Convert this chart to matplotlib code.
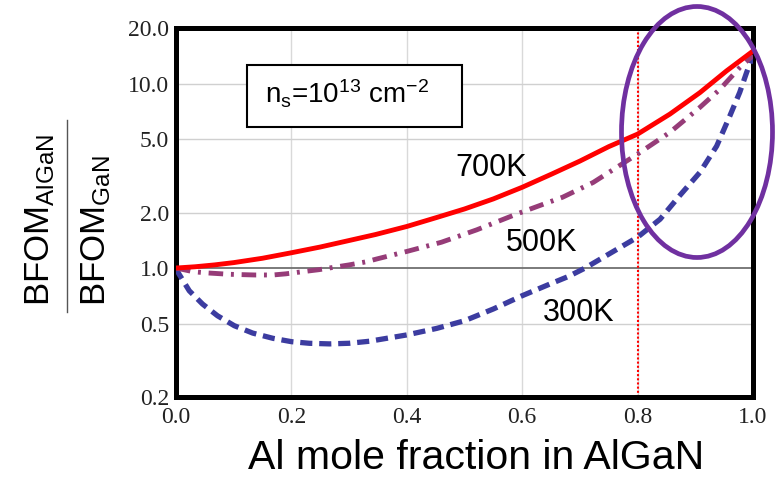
import matplotlib
matplotlib.use("Agg")
import matplotlib.pyplot as plt
from matplotlib.patches import Ellipse, Rectangle
from matplotlib.lines import Line2D

# Data
x_700 = [0.0, 0.033, 0.067, 0.1, 0.15, 0.2, 0.25, 0.3, 0.346, 0.4, 0.452, 0.5,
         0.55, 0.6, 0.651, 0.7, 0.75, 0.8, 0.856, 0.908, 0.954, 1.0]
y_700 = [1.0, 1.016, 1.04, 1.07, 1.13, 1.21, 1.30, 1.41, 1.52, 1.68, 1.88, 2.09,
         2.37, 2.74, 3.23, 3.8, 4.55, 5.32, 6.83, 8.93, 11.7, 15.0]

x_500 = [0.0, 0.03, 0.056, 0.092, 0.137, 0.168, 0.19, 0.219, 0.248, 0.274, 0.3,
         0.329, 0.348, 0.4, 0.46, 0.521, 0.59, 0.637, 0.67, 0.723, 0.8, 0.856,
         0.908, 0.943, 0.977, 1.0]
y_500 = [1.0, 0.955, 0.94, 0.925, 0.917, 0.917, 0.93, 0.955, 0.98, 1.01, 1.04,
         1.08, 1.12, 1.23, 1.38, 1.61, 1.96, 2.22, 2.42, 2.91, 4.15, 5.44,
         7.43, 9.33, 12.2, 14.2]

x_300 = [0.0, 0.005, 0.023, 0.046, 0.072, 0.101, 0.133, 0.168, 0.2, 0.231, 0.266,
         0.3, 0.335, 0.4, 0.452, 0.5, 0.55, 0.6, 0.648, 0.68, 0.709, 0.8, 0.839,
         0.873, 0.908, 0.937, 0.96, 0.977, 0.989, 1.0]
y_300 = [1.0, 0.93, 0.753, 0.638, 0.551, 0.487, 0.444, 0.416, 0.399, 0.391, 0.388,
         0.391, 0.401, 0.434, 0.471, 0.518, 0.600, 0.708, 0.819, 0.9, 1.0, 1.47,
         1.84, 2.47, 3.30, 4.58, 6.69, 8.96, 11.5, 14.2]

x_ticks = [0.0, 0.2, 0.4, 0.6, 0.8, 1.0]
x_tick_labels = ["0.0", "0.2", "0.4", "0.6", "0.8", "1.0"]
y_ticks = [0.2, 0.5, 1.0, 2.0, 5.0, 10.0, 20.0]
y_tick_labels = ["0.2", "0.5", "1.0", "2.0", "5.0", "10.0", "20.0"]

curve_labels = ["700K", "500K", "300K"]
label_x = [0.546, 0.633, 0.698]
label_y = [3.48, 1.366, 0.57]

plt.rcParams['mathtext.fontset'] = 'custom'
plt.rcParams['mathtext.rm'] = 'Liberation Sans'
plt.rcParams['mathtext.it'] = 'Liberation Sans'
plt.rcParams['font.family'] = 'Liberation Sans'

W, H = 778, 479
fig = plt.figure(figsize=(W/100, H/100), dpi=100)
ax = fig.add_axes([176/W, 1-397/H, 577/W, 369/H])
ax.set_yscale('log')
ax.set_xlim(0, 1.0)
ax.set_ylim(0.2, 20.0)

# grid
for xv in x_ticks[1:-1]:
    ax.axvline(xv, color='#d9d9d9', lw=1.0, zorder=1)
for yv in y_ticks[1:-1]:
    if yv == 1.0:
        ax.axhline(yv, color='#707070', lw=1.3, zorder=1)
    else:
        ax.axhline(yv, color='#d0d0d0', lw=1.0, zorder=1)

ax.plot(x_300, y_300, color='#3c3ca0', lw=3.8, dashes=(2.3, 1.3), zorder=3)
ax.plot(x_500, y_500, color='#963c78', lw=3.5, dashes=(3.0, 1.6, 0.6, 1.6), zorder=3)
ax.plot(x_700, y_700, color='#ff0000', lw=3.5, zorder=4)

ax.axvline(0.8, color='#ff0000', lw=1.5, ls=(0, (1, 1)), zorder=2)

ax.set_xticks(x_ticks)
ax.set_xticklabels(x_tick_labels)
ax.set_yticks(y_ticks)
ax.set_yticklabels(y_tick_labels)
ax.minorticks_off()
ax.tick_params(length=0, labelsize=17)
ax.tick_params(axis='y', pad=5)
ax.tick_params(axis='x', pad=7)
for lab in ax.get_xticklabels() + ax.get_yticklabels():
    lab.set_fontfamily('Liberation Serif')
    lab.set_color('#222222')

for s in ax.spines.values():
    s.set_linewidth(3.6)
    s.set_color('black')

for t, lx, ly in zip(curve_labels, label_x, label_y):
    ax.text(lx, ly, t, fontsize=22, family='Liberation Sans',
            ha='center', va='center', zorder=5)

# annotation box
box = Rectangle(((247-176)/577, (397-127)/369), (462-247)/577, (127-65)/369,
                transform=ax.transAxes, fill=True, facecolor='white',
                edgecolor='black', lw=1.5, zorder=5)
ax.add_patch(box)
ax.text((347-176)/577, (397-103)/369, r"n$_\mathrm{s}$=10$^{13}$ cm$^{-2}$",
        transform=ax.transAxes, fontsize=20, family='Liberation Sans',
        ha='center', va='baseline', zorder=6)

# highlight ellipse
ell = Ellipse(((697-176)/577, (397-132)/369), 151/577, 251/369,
              transform=ax.transAxes, fill=False, edgecolor='#7030a0',
              lw=3.4, clip_on=False, zorder=7)
ax.add_patch(ell)

# x label
fig.text(476/W, 1-469/H, "Al mole fraction in AlGaN", fontsize=29.5,
         family='Liberation Sans', ha='center', va='baseline')

# y label as a fraction: numerator / line / denominator
fig.text(40/W, 1-306/H, r"BFOM$_{\mathrm{AlGaN}}$", rotation=90,
         fontsize=25, ha='center', va='bottom')
fig.text(96/W, 1-306/H, r"BFOM$_{\mathrm{GaN}}$", rotation=90,
         fontsize=25, ha='center', va='bottom')
fig.add_artist(Line2D([67/W, 67/W], [1-312/H, 1-120/H], color='#555555', lw=1.0,
                      transform=fig.transFigure))

fig.savefig("out.png", dpi=100)
